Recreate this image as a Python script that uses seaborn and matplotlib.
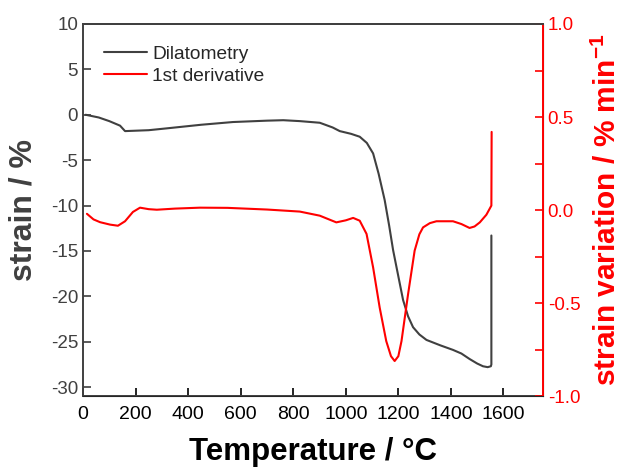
import pandas as pd
import matplotlib.pyplot as plt
import seaborn as sns
from matplotlib.ticker import MultipleLocator

sns.set_style("ticks")
plt.rcParams['font.family'] = ['Liberation Sans', 'DejaVu Sans']
plt.rcParams['axes.unicode_minus'] = False
plt.rcParams['mathtext.fontset'] = 'custom'
plt.rcParams['mathtext.rm'] = 'Liberation Sans'
plt.rcParams['mathtext.bf'] = 'Liberation Sans:bold'

# dilatometry curve (left axis)
temp_dil = [10, 60, 100, 141, 160, 250, 318, 450, 571, 700, 762, 825, 901, 950,
            977, 1020, 1053, 1080, 1104, 1125, 1148, 1165, 1180, 1200, 1218,
            1237, 1256, 1280, 1307, 1360, 1408, 1440, 1471, 1500, 1522, 1540,
            1552, 1554, 1554]
strain = [0, -0.3, -0.7, -1.2, -1.8, -1.7, -1.5, -1.1, -0.8, -0.65, -0.6, -0.7,
          -0.88, -1.4, -1.8, -2.1, -2.42, -3.1, -4.26, -6.5, -9.4, -12.2, -14.9,
          -17.8, -20.4, -22.2, -23.4, -24.2, -24.8, -25.4, -25.9, -26.3, -26.9,
          -27.4, -27.7, -27.8, -27.7, -27.5, -13.3]

# first derivative (right axis)
temp_der = [15, 40, 65, 103, 133, 160, 190, 217, 250, 281, 350, 445, 550, 700,
            825, 901, 964, 1000, 1028, 1053, 1079, 1104, 1129, 1154, 1172, 1186,
            1200, 1212, 1237, 1262, 1280, 1294, 1320, 1345, 1408, 1440, 1471,
            1490, 1510, 1535, 1554, 1555]
deriv = [-0.02, -0.05, -0.065, -0.078, -0.084, -0.06, -0.01, 0.013, 0.005,
         0.002, 0.008, 0.013, 0.012, 0.003, -0.008, -0.030, -0.066, -0.055,
         -0.042, -0.057, -0.128, -0.308, -0.524, -0.704, -0.785, -0.811,
         -0.785, -0.704, -0.452, -0.218, -0.13, -0.093, -0.07, -0.060, -0.060,
         -0.075, -0.096, -0.088, -0.066, -0.025, 0.024, 0.42]

dil = pd.DataFrame({'T': temp_dil, 'strain': strain})
der = pd.DataFrame({'T': temp_der, 'deriv': deriv})

gray = '#404040'
red = '#ff0000'

fig, ax = plt.subplots(figsize=(6.24, 4.70), dpi=100)
fig.subplots_adjust(left=0.133, right=0.870, top=0.949, bottom=0.157)
ax2 = ax.twinx()

sns.lineplot(data=dil, x='T', y='strain', ax=ax, color=gray, lw=1.5,
             sort=False, estimator=None, label='Dilatometry', legend=False)
sns.lineplot(data=der, x='T', y='deriv', ax=ax2, color=red, lw=1.5,
             sort=False, estimator=None, label='1st derivative', legend=False)

ax.set_xlim(0, 1750)
ax.set_ylim(-31, 10)
ax2.set_ylim(-1.0, 1.0)

ax.xaxis.set_major_locator(MultipleLocator(200))
ax.yaxis.set_major_locator(MultipleLocator(5))
ax2.yaxis.set_major_locator(MultipleLocator(0.5))
ax2.yaxis.set_minor_locator(MultipleLocator(0.25))
ax2.yaxis.set_major_formatter(plt.FormatStrFormatter('%.1f'))

ax.tick_params(axis='x', direction='in', length=6, width=1.2, labelsize=14,
               colors='black', pad=7)
ax.tick_params(axis='y', direction='in', length=6, width=1.2, labelsize=13.5,
               colors=gray)
ax2.tick_params(axis='y', which='both', direction='in', length=6, width=1.2,
                labelsize=13.5, colors=red)

for s in ['left', 'bottom', 'top']:
    ax.spines[s].set_color(gray)
    ax.spines[s].set_linewidth(1.4)
ax2.spines['right'].set_color(red)
ax2.spines['right'].set_linewidth(1.4)
ax2.spines['left'].set_visible(False)
ax2.spines['top'].set_color(gray)
ax2.spines['top'].set_linewidth(1.4)

ax.set_xlabel('Temperature / °C', fontsize=22.5, fontweight='bold',
              color='black', labelpad=10)
ax.set_ylabel('strain / %', fontsize=23, fontweight='bold', color=gray)
ax.yaxis.set_label_coords(-0.096, 0.5)
ax2.set_ylabel('strain variation / % min$^{\\mathbf{-1}}$', fontsize=21.5,
               fontweight='bold', color=red, rotation=90)
ax2.yaxis.set_label_coords(1.106, 0.5)

h1, l1 = ax.get_legend_handles_labels()
h2, l2 = ax2.get_legend_handles_labels()
ax.legend(h1 + h2, l1 + l2, loc='upper left', frameon=False, fontsize=13.8,
          handlelength=2.2, handletextpad=0.3, labelspacing=0.25,
          borderaxespad=0.0, bbox_to_anchor=(0.03, 0.963))

plt.savefig('out.png', dpi=100)
